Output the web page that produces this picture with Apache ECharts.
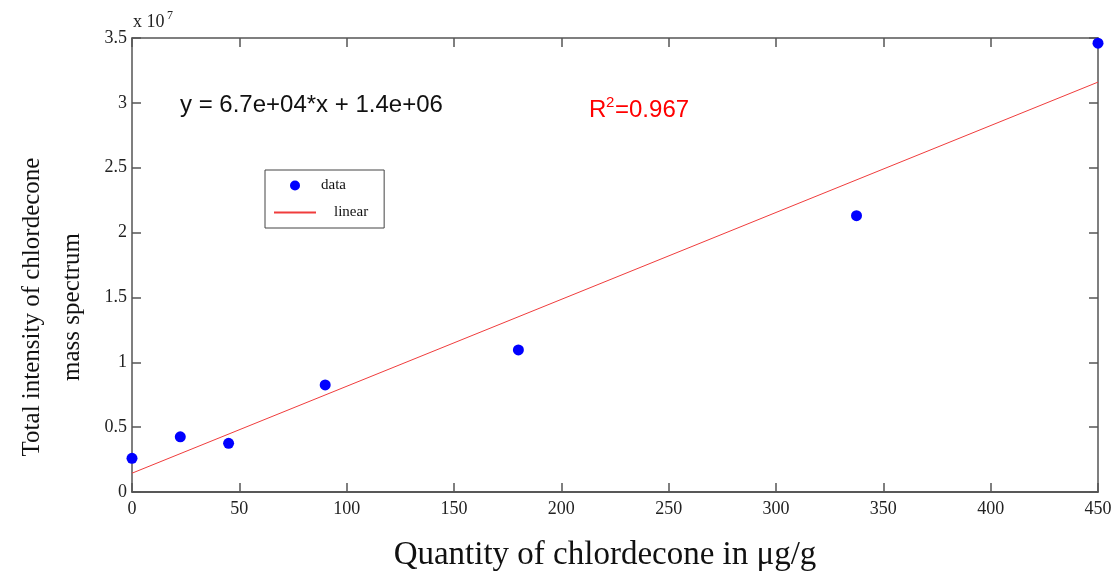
<!DOCTYPE html>
<html><head><meta charset="utf-8">
<script src="https://cdn.jsdelivr.net/npm/echarts@6/dist/echarts.min.js"></script>
<style>html,body{margin:0;padding:0;background:#fff}#c{width:1116px;height:573px}</style>
</head><body><div id="c"></div>
<script>
var quantity = [0, 22.5, 45, 90, 180, 337.5, 450];
var intensity = [2.6e6, 4.25e6, 3.75e6, 8.25e6, 1.095e7, 2.13e7, 3.46e7];
var linearX = [0, 450];
var linearY = [1.45e6, 3.16e7];
var xTicks = [0, 50, 100, 150, 200, 250, 300, 350, 400, 450];
var yTicks = [0, 0.5, 1, 1.5, 2, 2.5, 3, 3.5];

var serif = '"Liberation Serif", "Times New Roman", serif';
var sans = '"Liberation Sans", Arial, sans-serif';
var axisColor = '#555';

var chart = echarts.init(document.getElementById('c'));
var scatterData = quantity.map(function (q, i) { return [q, intensity[i]]; });
var lineData = linearX.map(function (q, i) { return [q, linearY[i]]; });

chart.setOption({
  animation: false,
  backgroundColor: '#fff',
  grid: { left: 132, right: 18, top: 38, bottom: 81, containLabel: false, outerBoundsMode: 'none' },
  xAxis: [{
    type: 'value', min: xTicks[0], max: xTicks[xTicks.length - 1], interval: 50,
    position: 'bottom',
    name: 'Quantity of chlordecone in \u03bcg/g', nameLocation: 'middle', nameGap: 47,
    nameTextStyle: { fontFamily: serif, fontSize: 33, color: '#111', padding: [0, 20, 0, 0] },
    axisLine: { show: true, onZero: false, lineStyle: { color: '#222', width: 1.5 } },
    axisTick: { show: true, inside: true, length: 9, lineStyle: { color: axisColor, width: 1.5 } },
    axisLabel: { fontFamily: serif, fontSize: 18, color: '#222', margin: 8 },
    splitLine: { show: false }
  }, {
    type: 'value', min: xTicks[0], max: xTicks[xTicks.length - 1], interval: 50,
    position: 'top',
    axisLine: { show: true, onZero: false, lineStyle: { color: axisColor, width: 1.5 } },
    axisTick: { show: true, inside: true, length: 9, lineStyle: { color: axisColor, width: 1.5 } },
    axisLabel: { show: false }, splitLine: { show: false }
  }],
  yAxis: [{
    type: 'value', min: 0, max: 3.5e7, interval: 0.5e7,
    position: 'left',
    name: 'Total intensity of chlordecone\nmass spectrum', nameLocation: 'middle', nameGap: 40, nameRotate: 90,
    nameTextStyle: { fontFamily: serif, fontSize: 25, color: '#111', lineHeight: 40, padding: [0, 84, 0, 0] },
    axisLine: { show: true, onZero: false, lineStyle: { color: axisColor, width: 1.5 } },
    axisTick: { show: true, inside: true, length: 9, lineStyle: { color: axisColor, width: 1.5 } },
    axisLabel: { fontFamily: serif, fontSize: 18, color: '#222', margin: 5,
      formatter: function (v) { return String(Math.round(v / 1e6) / 10); } },
    splitLine: { show: false }
  }, {
    type: 'value', min: 0, max: 3.5e7, interval: 0.5e7,
    position: 'right',
    axisLine: { show: true, onZero: false, lineStyle: { color: axisColor, width: 1.5 } },
    axisTick: { show: true, inside: true, length: 9, lineStyle: { color: axisColor, width: 1.5 } },
    axisLabel: { show: false }, splitLine: { show: false }
  }],
  legend: {
    orient: 'vertical', left: 265, top: 170,
    backgroundColor: '#fff', borderColor: '#444', borderWidth: 1,
    padding: [8, 16, 8, 8], itemGap: 12, itemWidth: 42, itemHeight: 10,
    textStyle: { fontFamily: serif, fontSize: 15, color: '#111' },
    data: [
      { name: 'data', icon: 'circle', itemStyle: { color: '#0000ff', opacity: 1 } },
      { name: 'linear', itemStyle: { opacity: 0 }, textStyle: { padding: [0, 0, 0, 13] } }
    ]
  },
  series: [{
    name: 'linear', type: 'line', data: lineData, symbol: 'none', showSymbol: false,
    lineStyle: { color: '#f03c3c', width: 1 }, itemStyle: { color: '#f03c3c' }, z: 2
  }, {
    name: 'data', type: 'scatter', data: scatterData, symbolSize: 11,
    itemStyle: { color: '#0000ff', opacity: 1 }, z: 3
  }],
  graphic: [{
    type: 'text', left: 133, top: 13,
    style: { text: 'x 10', font: '18px ' + serif, fill: '#222' }
  }, {
    type: 'text', left: 167, top: 10,
    style: { text: '7', font: '12px ' + serif, fill: '#222' }
  }, {
    type: 'text', left: 180, top: 93,
    style: { text: 'y = 6.7e+04*x + 1.4e+06', font: '24px ' + sans, fill: '#111' }
  }, {
    type: 'text', left: 589, top: 98,
    style: { text: 'R', font: '24px ' + sans, fill: '#ff0000' }
  }, {
    type: 'text', left: 606, top: 95,
    style: { text: '2', font: '15px ' + sans, fill: '#ff0000' }
  }, {
    type: 'text', left: 615, top: 98,
    style: { text: '=0.967', font: '24px ' + sans, fill: '#ff0000' }
  }]
});
</script></body></html>
